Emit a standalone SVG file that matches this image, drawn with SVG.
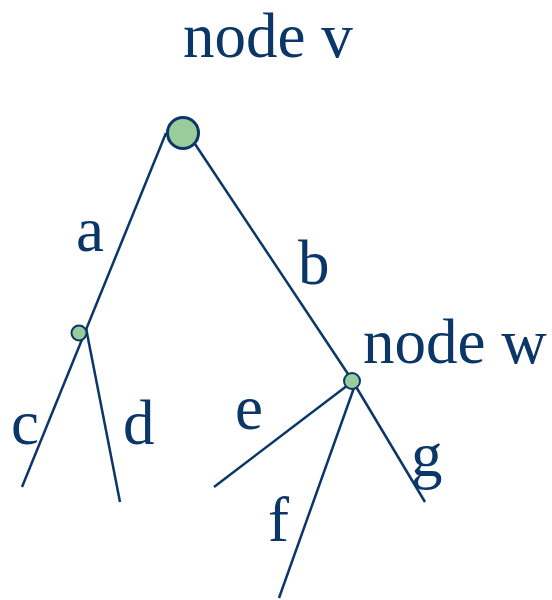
<svg xmlns="http://www.w3.org/2000/svg" width="552" height="600" viewBox="0 0 552 600">
<style>
text{font-family:"Liberation Serif","Times New Roman",serif;font-size:63px;fill:#0a3668}
.e{stroke:#0a3668;stroke-width:2.5;fill:none}
.n{fill:#99cc99;stroke:#0a3668}
</style>
<rect width="552" height="600" fill="#fff"/>
<g id="connectors">
<line class="e" x1="166" y1="133" x2="22" y2="487"/>
<line class="e" x1="86" y1="328" x2="120" y2="502"/>
<line class="e" x1="195" y1="144" x2="352" y2="380"/>
<line class="e" x1="348" y1="385" x2="214" y2="487"/>
<line class="e" x1="355" y1="385" x2="279" y2="598"/>
<line class="e" x1="355" y1="385" x2="425" y2="502"/>
</g>
<g id="node-v"><circle class="n" cx="183" cy="133" r="15.5" stroke-width="3"/><text x="183" y="57">node v</text></g>
<g id="node-a"><circle class="n" cx="79" cy="333" r="7.5" stroke-width="2"/></g>
<g id="node-w"><circle class="n" cx="352" cy="381" r="8" stroke-width="2"/><text x="363" y="363">node w</text></g>
<g id="labels">
<text x="76" y="251">a</text>
<text x="298" y="284">b</text>
<text x="11" y="444">c</text>
<text x="123" y="444">d</text>
<text x="235" y="429">e</text>
<text x="268" y="541">f</text>
<text x="411" y="476">g</text>
</g>
</svg>
